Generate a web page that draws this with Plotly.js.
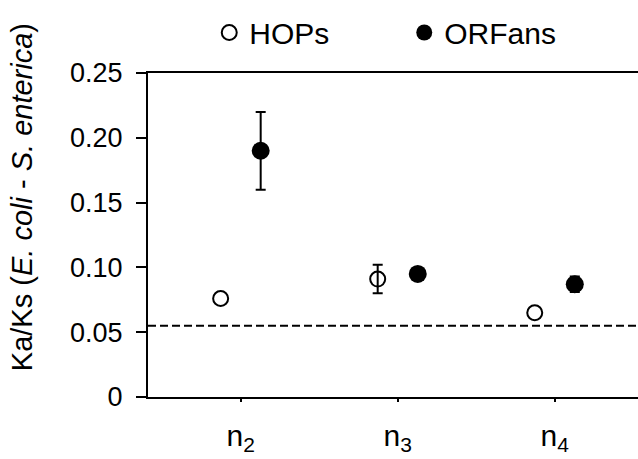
<!DOCTYPE html>
<html><head><meta charset="utf-8">
<script src="https://cdn.plot.ly/plotly-3.0.1.min.js"></script>
<style>html,body{margin:0;padding:0;background:#fff}</style>
</head><body>
<div id="chart" style="width:638px;height:459px"></div>
<script>
const categories = ["n2", "n3", "n4"];
const tickLabels = ["n<sub>2</sub>", "n<sub>3</sub>", "n<sub>4</sub>"];
const hopsValues = [0.076, 0.091, 0.065];
const hopsErrors = [NaN, 0.011, NaN];
const orfanValues = [0.190, 0.095, 0.087];
const orfanErrors = [0.030, 0.003, 0.006];
const referenceLine = 0.055;
const yTickVals = [0, 0.05, 0.10, 0.15, 0.20, 0.25];
const yTickText = ["0", "0.05", "0.10", "0.15", "0.20", "0.25"];
const yTitle = "Ka/Ks (<i>E. coli</i> - <i>S. enterica</i>)";

const font = "Liberation Sans, Arial, sans-serif";

const traces = [
  {
    type: "scatter", mode: "markers", name: "HOPs",
    x: categories, y: hopsValues, offsetgroup: "a",
    error_y: {type: "data", array: hopsErrors, visible: true, color: "#000", thickness: 2, width: 5},
    marker: {symbol: "circle-open", size: 15, color: "#000", line: {width: 2, color: "#000"}}
  },
  {
    type: "scatter", mode: "markers", name: "ORFans",
    x: categories, y: orfanValues, offsetgroup: "b",
    error_y: {type: "data", array: orfanErrors, visible: true, color: "#000", thickness: 2, width: 5},
    marker: {symbol: "circle", size: 18, color: "#000"}
  }
];

const layout = {
  width: 638, height: 459,
  margin: {l: 148, r: 0, t: 73, b: 62},
  paper_bgcolor: "#fff", plot_bgcolor: "#fff",
  font: {family: font, color: "#000", size: 22},
  scattermode: "group", scattergap: 0.49,
  showlegend: true,
  legend: {orientation: "h", x: 0.125, y: 1.125, xanchor: "left", yanchor: "middle",
           font: {family: font, size: 30, color: "#000"}, itemwidth: 30, entrywidth: 150,
           traceorder: "normal", bgcolor: "rgba(0,0,0,0)"},
  xaxis: {
    type: "category", range: [-0.59, 2.53],
    tickvals: categories, ticktext: tickLabels,
    showline: true, linecolor: "#000", linewidth: 2, mirror: true,
    ticks: "outside", ticklen: 3, tickwidth: 2, tickcolor: "#000",
    showgrid: false, zeroline: false,
    tickfont: {family: font, size: 30, color: "#000"}, ticklabelstandoff: 8
  },
  yaxis: {
    range: [0, 0.25], tickvals: yTickVals, ticktext: yTickText,
    showline: true, linecolor: "#000", linewidth: 2,
    ticks: "outside", ticklen: 10, tickwidth: 2, tickcolor: "#000",
    showgrid: false, zeroline: false,
    tickfont: {family: font, size: 27, color: "#000"}, ticklabelstandoff: 8
  },
  annotations: [{
    text: yTitle, textangle: -90, showarrow: false,
    xref: "paper", yref: "paper", x: -0.257, y: 0.617, xanchor: "center", yanchor: "middle",
    font: {family: font, size: 29, color: "#000"}
  }],
  shapes: [{
    type: "line", xref: "paper", yref: "y", x0: 0, x1: 1, y0: referenceLine, y1: referenceLine,
    line: {color: "#000", width: 2, dash: "8px,4px"}
  }]
};

Plotly.newPlot("chart", traces, layout, {displayModeBar: false, staticPlot: true});
</script>
</body></html>
